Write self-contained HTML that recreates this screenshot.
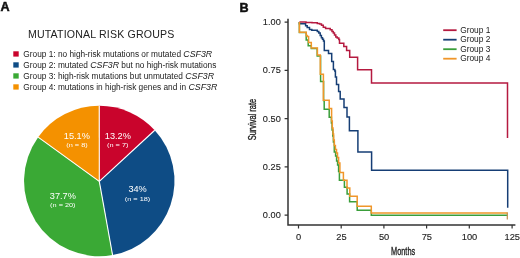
<!DOCTYPE html>
<html><head><meta charset="utf-8"><style>
html,body{margin:0;padding:0;background:#fff;width:520px;height:258px;overflow:hidden}
svg{display:block;will-change:transform;filter:blur(0.3px)}
text{font-family:"Liberation Sans",sans-serif}
</style></head><body>
<svg width="520" height="258" viewBox="0 0 520 258">
<!-- Panel labels -->
<text x="0.6" y="11.1" font-size="12.6" font-weight="bold" fill="#111" stroke="#111" stroke-width="0.5">A</text>
<text x="239.4" y="11.6" font-size="12.6" font-weight="bold" fill="#111" stroke="#111" stroke-width="0.5">B</text>

<!-- Panel A title -->
<text x="27.9" y="37.7" font-size="10.6" fill="#222" letter-spacing="0.17">MUTATIONAL RISK GROUPS</text>

<!-- Legend A -->
<rect x="13.3" y="51.3" width="5.4" height="5.3" fill="#C9042C"/>
<rect x="13.3" y="62.3" width="5.4" height="5.3" fill="#0E4C85"/>
<rect x="13.3" y="73.3" width="5.4" height="5.3" fill="#3AA935"/>
<rect x="13.3" y="84.3" width="5.4" height="5.3" fill="#F49100"/>
<g font-size="8.3" fill="#222">
<text x="23.3" y="56.7">Group 1: no high-risk mutations or mutated <tspan font-style="italic" font-size="8.8">CSF3R</tspan></text>
<text x="23.3" y="67.8">Group 2: mutated <tspan font-style="italic" font-size="8.8">CSF3R</tspan> but no high-risk mutations</text>
<text x="23.3" y="79.0">Group 3: high-risk mutations but unmutated <tspan font-style="italic" font-size="8.8">CSF3R</tspan></text>
<text x="23.3" y="90.1">Group 4: mutations in high-risk genes and in <tspan font-style="italic" font-size="8.8">CSF3R</tspan></text>
</g>

<!-- Pie -->
<g>
<path d="M99.3,181.4 L99.25,105.8 A75.2,75.2 0 0 1 154.74,130.24 Z" fill="#C9042C"/>
<path d="M99.3,181.4 L154.74,130.24 A75.2,75.2 0 0 1 112.55,255.01 Z" fill="#0E4C85"/>
<path d="M99.3,181.4 L112.55,255.01 A75.2,75.2 0 0 1 38.15,137.16 Z" fill="#3AA935"/>
<path d="M99.3,181.4 L38.15,137.16 A75.2,75.2 0 0 1 99.25,105.8 Z" fill="#F49100"/>
</g>
<g stroke="#fff" stroke-width="1.1" stroke-linecap="butt">
<line x1="99.3" y1="181.4" x2="99.25" y2="105.8"/>
<line x1="99.3" y1="181.4" x2="154.74" y2="130.24"/>
<line x1="99.3" y1="181.4" x2="112.55" y2="255.01"/>
<line x1="99.3" y1="181.4" x2="38.15" y2="137.16"/>
</g>
<g fill="#fff" text-anchor="middle">
<text x="117.8" y="138.8" font-size="9.2">13.2%</text>
<text transform="translate(117.7,146.5) scale(1.02,0.78)" font-size="7.2">(n = 7)</text>
<text x="76.8" y="138.8" font-size="9.2">15.1%</text>
<text transform="translate(77,146.5) scale(1.02,0.78)" font-size="7.2">(n = 8)</text>
<text x="62.8" y="199" font-size="9.2">37.7%</text>
<text transform="translate(62.8,206.7) scale(1.02,0.78)" font-size="7.2">(n = 20)</text>
<text x="137.6" y="192.4" font-size="9.2">34%</text>
<text transform="translate(137.5,200.8) scale(1.02,0.78)" font-size="7.2">(n = 18)</text>
</g>

<!-- Panel B axes -->
<g stroke="#333" stroke-width="1.2" fill="none">
<path stroke-width="1.5" d="M288,18.8 V225.1 H515.4"/>
<path d="M284.6,22.1 H288 M284.6,70.4 H288 M284.6,118.7 H288 M284.6,166.9 H288 M284.6,215.1 H288"/>
<path d="M298.5,225.1 V228.5 M341.2,225.1 V228.5 M383.9,225.1 V228.5 M426.6,225.1 V228.5 M469.3,225.1 V228.5 M512.1,225.1 V228.5"/>
</g>
<g font-size="9.2" fill="#222" stroke="#222" stroke-width="0.12" text-anchor="end" letter-spacing="0.1">
<text x="281" y="24.9">1.00</text>
<text x="281" y="73.2">0.75</text>
<text x="281" y="121.5">0.50</text>
<text x="281" y="169.7">0.25</text>
<text x="281" y="217.9">0.00</text>
</g>
<g font-size="9.3" fill="#222" stroke="#222" stroke-width="0.12" text-anchor="middle">
<text x="298.7" y="240">0</text>
<text x="341.4" y="240">25</text>
<text x="384.1" y="240">50</text>
<text x="426.8" y="240">75</text>
<text x="469.5" y="240">100</text>
<text x="512.3" y="240">125</text>
</g>
<text transform="translate(391,255.1) scale(0.67,1)" font-size="11" fill="#222" stroke="#222" stroke-width="0.35">Months</text>
<text transform="translate(255.8,140.3) rotate(-90) scale(0.68,1)" font-size="11" fill="#222" stroke="#222" stroke-width="0.35">Survival rate</text>

<!-- Legend B -->
<g stroke-width="1.8">
<line x1="443.2" y1="30.2" x2="456.6" y2="30.2" stroke="#B51A40"/>
<line x1="443.2" y1="39.7" x2="456.6" y2="39.7" stroke="#163E75"/>
<line x1="443.2" y1="49.2" x2="456.6" y2="49.2" stroke="#3A9E3A"/>
<line x1="443.2" y1="58.7" x2="456.6" y2="58.7" stroke="#F0962A"/>
</g>
<g font-size="8.35" fill="#222">
<text x="460.2" y="32.6">Group 1</text>
<text x="460.2" y="42.2">Group 2</text>
<text x="460.2" y="51.8">Group 3</text>
<text x="460.2" y="61.4">Group 4</text>
</g>

<!-- KM curves -->
<g fill="none" stroke-width="1.5" stroke-linejoin="miter">
<path stroke="#163E75" d="M299.4,22.1 V23.8 H305.6 V25.7 H307.2 V27.6 H309.5 V29.6 H311.8 V30.3 H317.3 V31.5 H318.8 V33.1 H320.2 V35.5 H321.4 V37.8 H322.5 V39.3 H323.5 V41 H324.3 V50.4 H328.5 V53.5 H331.7 V61.6 H333.4 V69.5 H334.8 V71 H335.4 V77 H336.5 V84.4 H338.6 V91.6 H340.2 V99 H344 V107.5 H347 V117.1 H349.4 V130.8 H357.9 V152 H371.6 V170.2 H507.7 V207.7"/>
<path stroke="#B51A40" d="M299.4,22.1 H306 V22.4 H312 V22.8 H317.3 V23.5 H319.6 V24 H321.5 V25.3 H323.3 V27.2 H325.6 V28.4 H330.2 V29.8 H332 V31.5 H333.3 V33 H334.5 V35 H335.8 V37 H337.2 V38.1 H338.8 V39.5 H339.5 V43.2 H343.8 V46.5 H346.6 V50.5 H349.7 V57.3 H357.6 V69.8 H371.5 V82.9 H507.5 V138"/>
<path stroke="#3A9E3A" d="M299.4,22.1 V32.6 H306.2 V40 H308.2 V45.8 H311.3 V48.5 H317.2 V56 H320.6 V81.5 H323.6 V100.5 H324.2 V109.3 H329.2 V117.2 H331.4 V123 H332.1 V130 H332.8 V136 H333.4 V142 H334.3 V152 H335.6 V156 H336.6 V161 H337.6 V165 H338.6 V171.5 H339.4 V180.2 H344.4 V187.3 H347.1 V194.1 H349.6 V201.8 H357.2 V210.2 H371.3 V215.3 H507.7"/>
<path stroke="#F0962A" d="M299.4,22.1 V32.3 H306.2 V35.5 H307.2 V36.6 H308.6 V42.4 H311.3 V48.1 H317.4 V55 H320.3 V74.2 H323.4 V100.3 H329.2 V108.4 H331.6 V121 H332.3 V128 H333 V134 H333.6 V140 H334.3 V145.5 H335.4 V149.5 H336.5 V153 H337.5 V157.5 H338.6 V163 H339.9 V172.6 H343.4 V180.2 H347 V188.1 H349.8 V196.2 H357.2 V206.2 H371.3 V212.9 H507.7"/>
<path stroke="#C09050" stroke-width="1.2" d="M507.3,212.5 V219.5"/>
</g>
</svg>
</body></html>
